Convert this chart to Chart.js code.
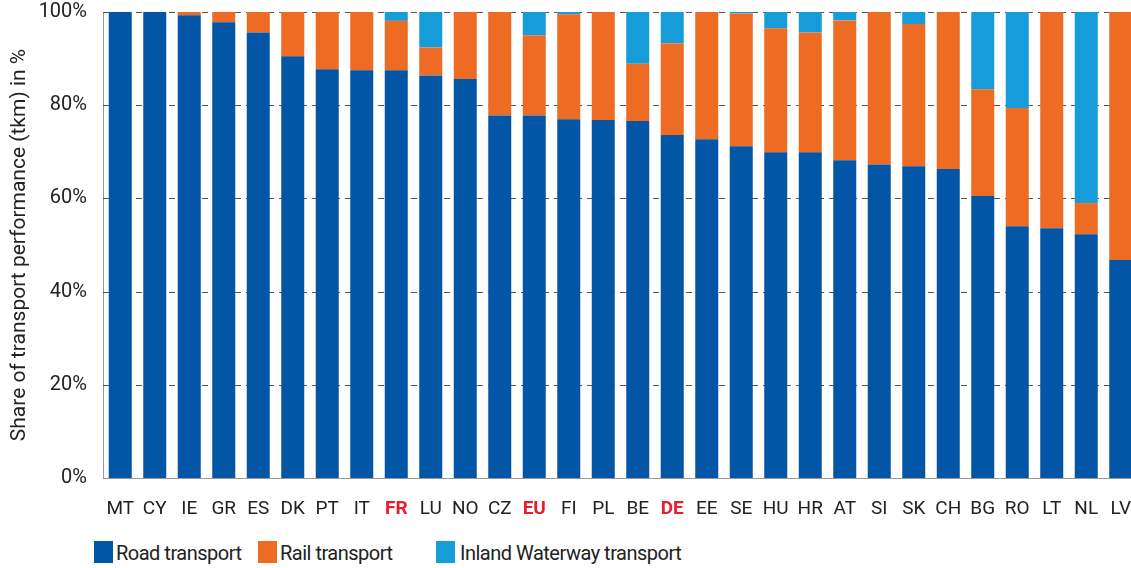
<!DOCTYPE html>
<html>
<head>
<meta charset="utf-8">
<script src="https://cdn.jsdelivr.net/npm/chart.js@4/dist/chart.umd.min.js"></script>
<style>
  html, body { margin: 0; padding: 0; background: #fff; overflow: hidden; width: 1131px; height: 568px; }
  #wrap { position: absolute; left: 0; top: 0; width: 1140px; height: 530px; }
  .leg { position: absolute; top: 541px; font: 20px Roboto, sans-serif; color: #222; line-height: 22px; letter-spacing: -0.5px; }
  .leg i { position: absolute; top: 0; width: 19px; height: 22px; }
  .leg span { position: absolute; top: 1px; white-space: nowrap; }
</style>
</head>
<body>
<div id="wrap"><canvas id="myChart" width="1140" height="530"></canvas></div>
<div class="leg"><i style="left:94px;background:#0356a5"></i><span style="left:116px">Road transport</span></div>
<div class="leg"><i style="left:258px;background:#ee6b23"></i><span style="left:280px">Rail transport</span></div>
<div class="leg"><i style="left:436px;background:#169dd9"></i><span style="left:460px">Inland Waterway transport</span></div>
<script>
const countries = ['MT', 'CY', 'IE', 'GR', 'ES', 'DK', 'PT', 'IT', 'FR', 'LU', 'NO', 'CZ', 'EU', 'FI', 'PL',
  'BE', 'DE', 'EE', 'SE', 'HU', 'HR', 'AT', 'SI', 'SK', 'CH', 'BG', 'RO', 'LT', 'NL', 'LV'];
const highlighted = ['FR', 'EU', 'DE'];

const road = [100, 100, 99.3, 97.8, 95.6, 90.5, 87.7, 87.5, 87.5, 86.4, 85.6, 77.8, 77.8, 77.0, 76.8,
  76.6, 73.6, 72.7, 71.2, 69.9, 69.9, 68.2, 67.3, 66.9, 66.3, 60.5, 54.0, 53.6, 52.3, 46.8];
const rail = [0, 0, 0.7, 2.2, 4.4, 9.5, 12.3, 12.5, 10.6, 6.0, 14.4, 22.2, 17.2, 22.5, 23.2,
  12.3, 19.7, 27.3, 28.5, 26.6, 25.7, 30.0, 32.7, 30.5, 33.7, 22.9, 25.4, 46.4, 6.7, 53.2];
const waterway = [0, 0, 0, 0, 0, 0, 0, 0, 1.9, 7.6, 0, 0, 5.0, 0.5, 0,
  11.1, 6.7, 0, 0.3, 3.5, 4.4, 1.8, 0, 2.6, 0, 16.6, 20.6, 0, 41.0, 0];

const yTicks = [0, 20, 40, 60, 80, 100];

const ctx = document.getElementById('myChart');
new Chart(ctx, {
  type: 'bar',
  data: {
    labels: countries,
    datasets: [
      { label: 'Road transport', data: road, backgroundColor: '#0356a5' },
      { label: 'Rail transport', data: rail, backgroundColor: '#ee6b23' },
      { label: 'Inland Waterway transport', data: waterway, backgroundColor: '#169dd9' }
    ]
  },
  options: {
    responsive: false,
    animation: false,
    categoryPercentage: 1,
    barPercentage: 0.667,
    layout: { padding: { top: 12, right: 2, left: 0, bottom: 0 } },
    plugins: { legend: { display: false }, tooltip: { enabled: false } },
    scales: {
      x: {
        stacked: true,
        grid: { display: false, drawTicks: false },
        border: { color: '#999', width: 1 },
        ticks: {
          autoSkip: false,
          maxRotation: 0,
          padding: 20,
          color: c => highlighted.includes(countries[c.index]) ? '#e3202b' : '#222',
          font: c => ({ family: 'Roboto', size: 19, weight: highlighted.includes(countries[c.index]) ? 'bold' : 'normal' })
        },
        afterFit: s => { s.height = 52; s.paddingLeft = 0; s.paddingRight = 0; }
      },
      y: {
        stacked: true,
        min: 0,
        max: 100,
        afterBuildTicks: s => { s.ticks = yTicks.map(v => ({ value: v })); },
        grid: { display: false, drawTicks: false },
        border: { display: true, color: '#999', width: 1 },
        ticks: { padding: 16, color: '#222', font: { family: 'Roboto', size: 20 }, callback: v => v + '%' },
        title: {
          display: true,
          text: 'Share of transport performance (tkm) in %',
          color: '#222',
          font: { family: 'Roboto', size: 21 },
          padding: { top: 7, bottom: 0 }
        },
        afterFit: s => { s.width = 103; s.paddingTop = 0; s.paddingBottom = 0; }
      }
    }
  },
  plugins: [{
    id: 'dashedGrid',
    beforeDatasetsDraw(chart) {
      const y = chart.scales.y, a = chart.chartArea, g = chart.ctx;
      g.save();
      g.strokeStyle = '#555';
      g.lineWidth = 1;
      g.setLineDash([6, 5]);
      yTicks.slice(1).forEach(v => {
        const py = Math.round(y.getPixelForValue(v)) + 0.5;
        g.beginPath(); g.moveTo(a.left, py); g.lineTo(a.right, py); g.stroke();
      });
      g.restore();
    }
  }]
});
</script>
</body>
</html>
